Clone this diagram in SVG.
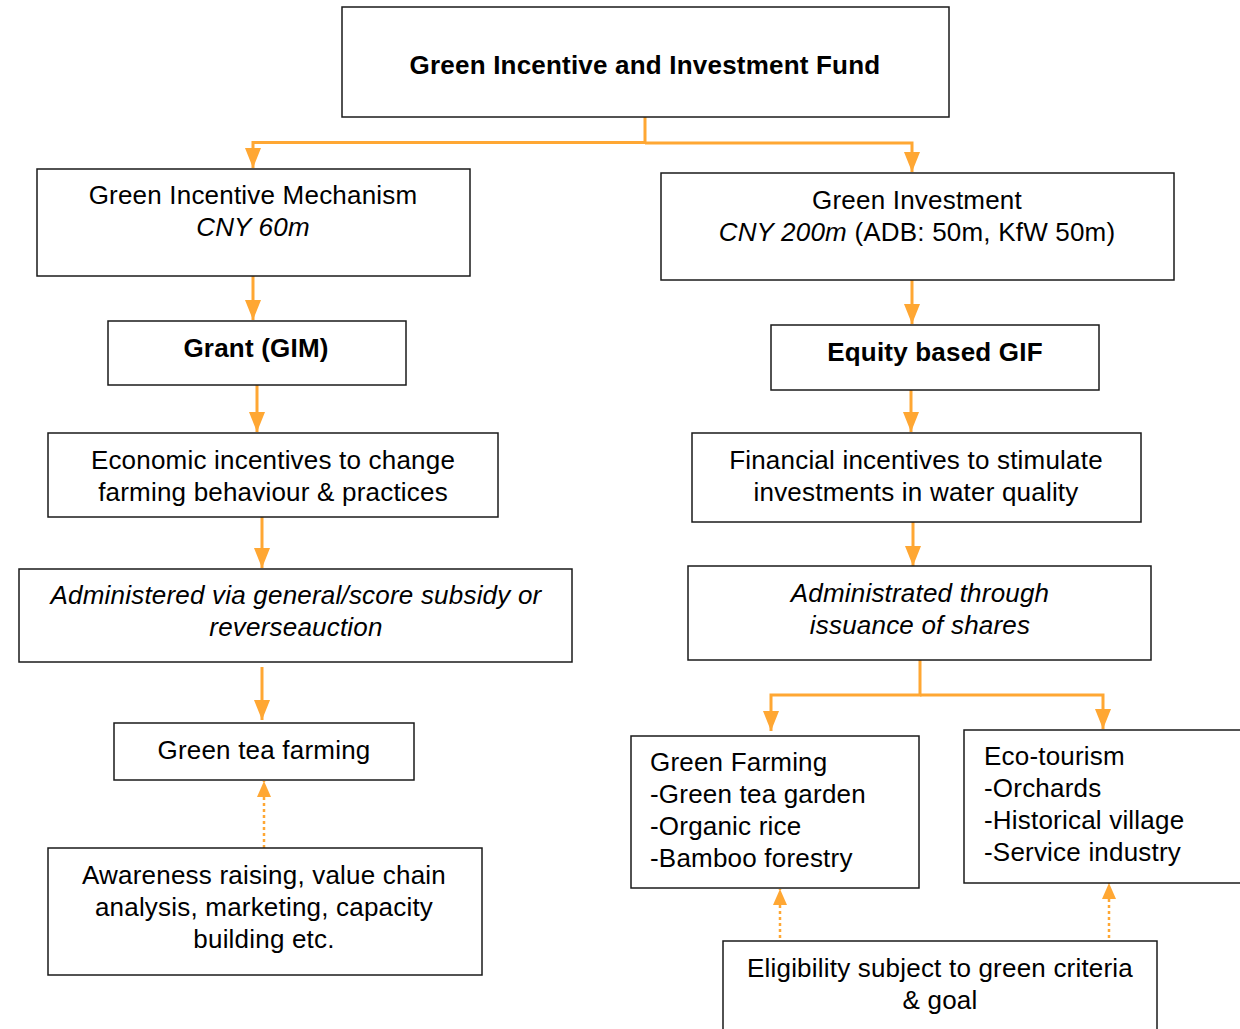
<svg xmlns="http://www.w3.org/2000/svg" width="1240" height="1029" viewBox="0 0 1240 1029">
<style>
.box{fill:#fff;stroke:#1a1a1a;stroke-width:1.5}
.t{font-family:"Liberation Sans",Arial,sans-serif;font-size:26px;letter-spacing:0.2px;fill:#000}
.c{text-anchor:middle}
.b{font-weight:bold}
.i{font-style:italic}
.ln{fill:none;stroke:#FFA733;stroke-width:3}
.dt{fill:none;stroke:#FFA733;stroke-width:2.5;stroke-dasharray:3 3}
</style>
<defs>
<marker id="ah" markerUnits="userSpaceOnUse" markerWidth="22" markerHeight="18" viewBox="0 -9 20 18" refX="20" refY="0" orient="auto">
<path d="M0,-8 L20,0 L0,8 z" fill="#FFA733"/>
</marker>
<marker id="ahs" markerUnits="userSpaceOnUse" markerWidth="18" markerHeight="16" viewBox="0 -8 16 16" refX="16" refY="0" orient="auto">
<path d="M0,-7 L16,0 L0,7 z" fill="#FFA733"/>
</marker>
</defs>
<rect width="1240" height="1029" fill="#fff"/>
<g id="connectors">
<path class="ln" d="M645,117 V142.5 H253 V168" marker-end="url(#ah)"/>
<path class="ln" d="M645,143 H912 V172" marker-end="url(#ah)"/>
<path class="ln" d="M253,276 V320" marker-end="url(#ah)"/>
<path class="ln" d="M257,385 V432" marker-end="url(#ah)"/>
<path class="ln" d="M262,517 V568" marker-end="url(#ah)"/>
<path class="ln" d="M262,667 V720" marker-end="url(#ah)"/>
<path class="dt" d="M264,848 V781" marker-end="url(#ahs)"/>
<path class="ln" d="M912,280 V324" marker-end="url(#ah)"/>
<path class="ln" d="M911,390 V432" marker-end="url(#ah)"/>
<path class="ln" d="M913,522 V566" marker-end="url(#ah)"/>
<path class="ln" d="M920,660 V695 H771 V731" marker-end="url(#ah)"/>
<path class="ln" d="M920,695 H1103 V729" marker-end="url(#ah)"/>
<path class="dt" d="M780,938 V889" marker-end="url(#ahs)"/>
<path class="dt" d="M1109,938 V883" marker-end="url(#ahs)"/>
</g>
<g id="fund">
<rect class="box" x="342" y="7" width="607" height="110"/>
<text class="t c b" x="645" y="74">Green Incentive and Investment Fund</text>
</g>
<g id="gim">
<rect class="box" x="37" y="169" width="433" height="107"/>
<text class="t c" x="253" y="204">Green Incentive Mechanism</text>
<text class="t c i" x="253" y="236">CNY 60m</text>
</g>
<g id="grant">
<rect class="box" x="108" y="321" width="298" height="64"/>
<text class="t c b" x="256" y="357">Grant (GIM)</text>
</g>
<g id="econ">
<rect class="box" x="48" y="433" width="450" height="84"/>
<text class="t c" x="273" y="469">Economic incentives to change</text>
<text class="t c" x="273" y="501">farming behaviour &amp; practices</text>
</g>
<g id="administered">
<rect class="box" x="19" y="569" width="553" height="93"/>
<text class="t c i" x="296" y="604">Administered via general/score subsidy or</text>
<text class="t c i" x="296" y="636">reverseauction</text>
</g>
<g id="teafarming">
<rect class="box" x="114" y="723" width="300" height="57"/>
<text class="t c" x="264" y="759">Green tea farming</text>
</g>
<g id="awareness">
<rect class="box" x="48" y="848" width="434" height="127"/>
<text class="t c" x="264" y="884">Awareness raising, value chain</text>
<text class="t c" x="264" y="916">analysis, marketing, capacity</text>
<text class="t c" x="264" y="948">building etc.</text>
</g>
<g id="investment">
<rect class="box" x="661" y="173" width="513" height="107"/>
<text class="t c" x="917" y="209">Green Investment</text>
<text class="t c" x="917" y="241"><tspan class="i">CNY 200m</tspan> (ADB: 50m, KfW 50m)</text>
</g>
<g id="equity">
<rect class="box" x="771" y="325" width="328" height="65"/>
<text class="t c b" x="935" y="361">Equity based GIF</text>
</g>
<g id="financial">
<rect class="box" x="692" y="433" width="449" height="89"/>
<text class="t c" x="916" y="469">Financial incentives to stimulate</text>
<text class="t c" x="916" y="501">investments in water quality</text>
</g>
<g id="administrated">
<rect class="box" x="688" y="566" width="463" height="94"/>
<text class="t c i" x="920" y="602">Administrated through</text>
<text class="t c i" x="920" y="634">issuance of shares</text>
</g>
<g id="greenfarming">
<rect class="box" x="631" y="736" width="288" height="152"/>
<text class="t" x="650" y="771">Green Farming</text>
<text class="t" x="650" y="803">-Green tea garden</text>
<text class="t" x="650" y="835">-Organic rice</text>
<text class="t" x="650" y="867">-Bamboo forestry</text>
</g>
<g id="ecotourism">
<rect class="box" x="964" y="730" width="290" height="153"/>
<text class="t" x="984" y="765">Eco-tourism</text>
<text class="t" x="984" y="797">-Orchards</text>
<text class="t" x="984" y="829">-Historical village</text>
<text class="t" x="984" y="861">-Service industry</text>
</g>
<g id="eligibility">
<rect class="box" x="723" y="941" width="434" height="100"/>
<text class="t c" x="940" y="977">Eligibility subject to green criteria</text>
<text class="t c" x="940" y="1009">&amp; goal</text>
</g>
</svg>
